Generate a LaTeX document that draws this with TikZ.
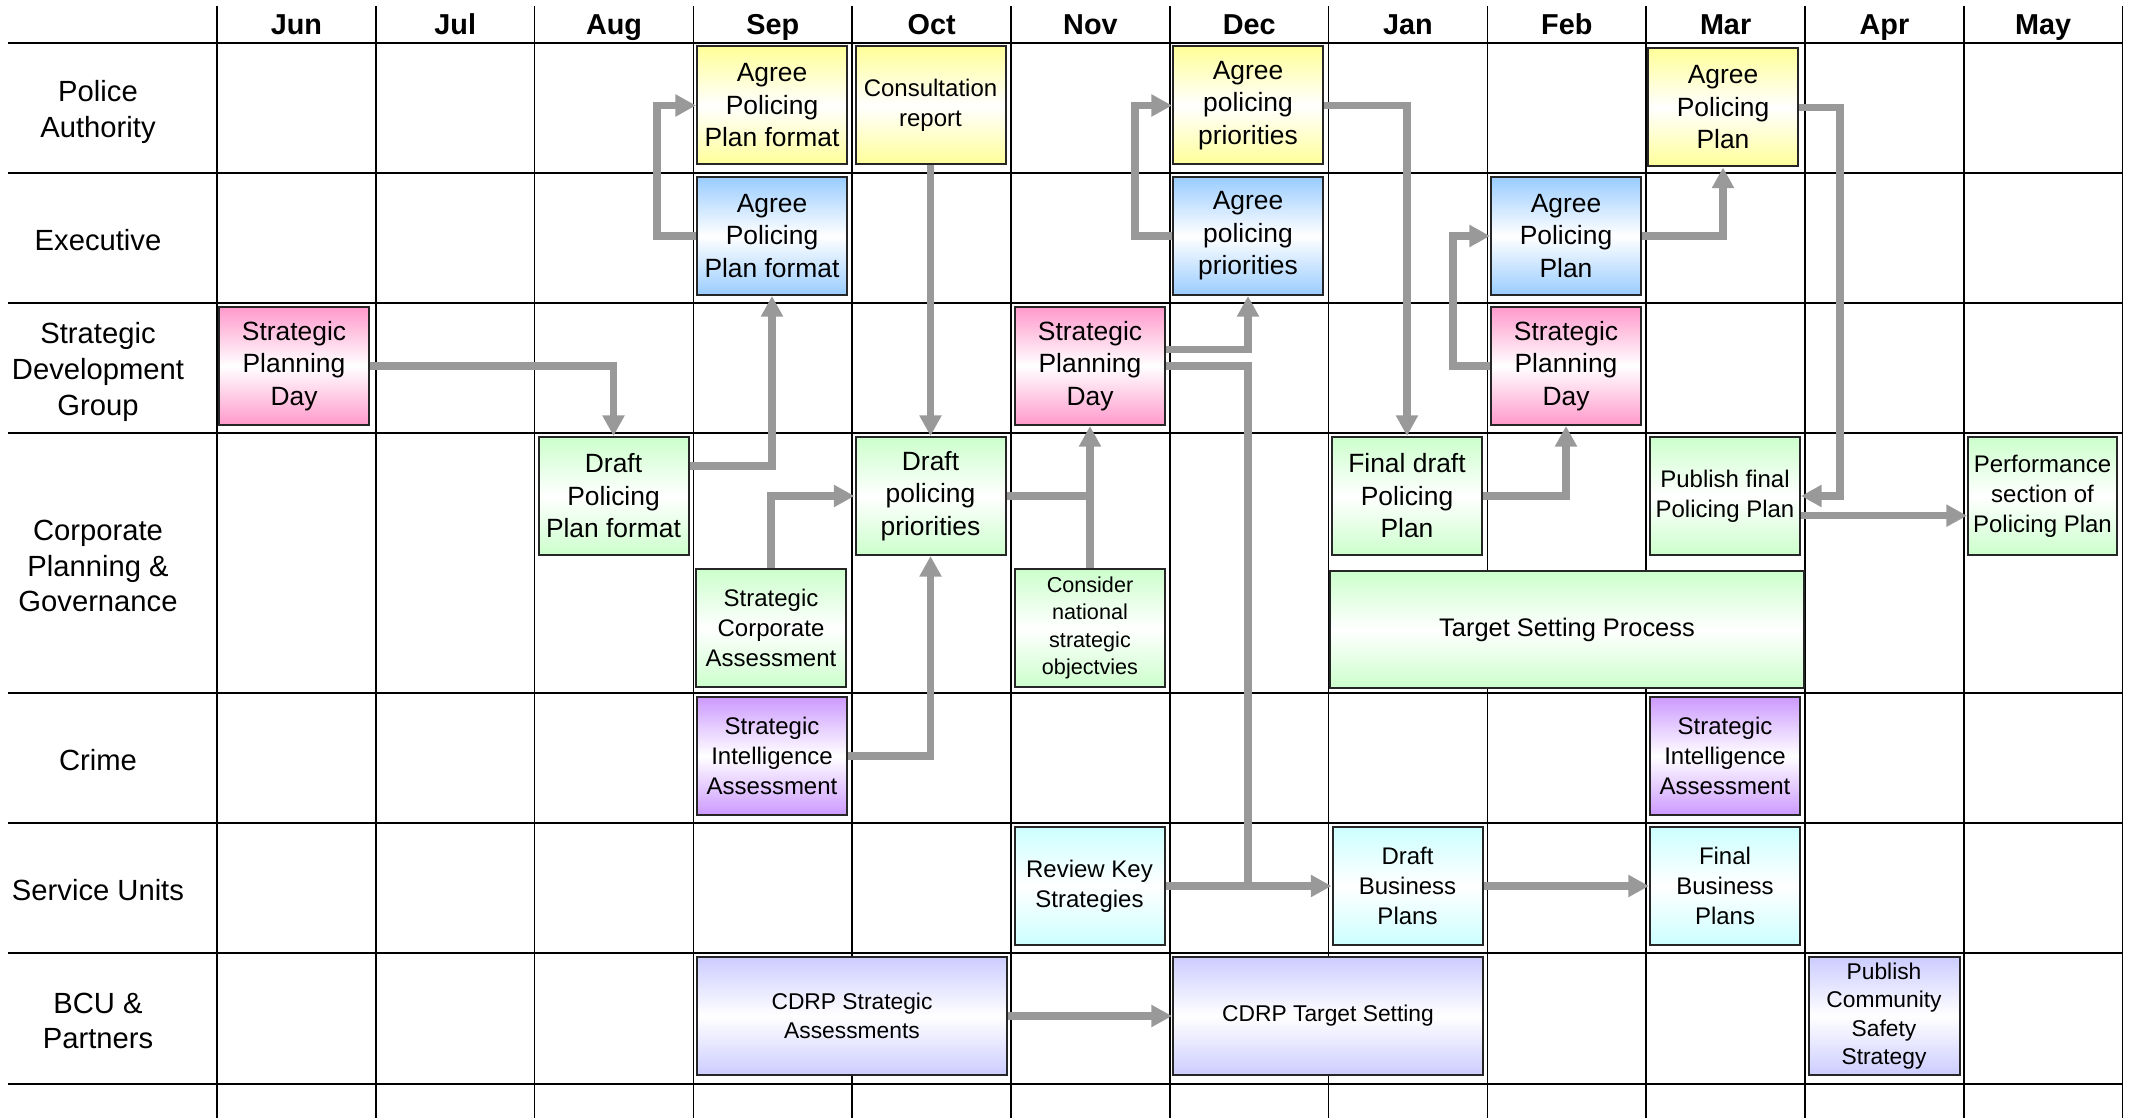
\documentclass[tikz,border=0pt]{standalone}
\usepackage{fontspec}
\setmainfont{Liberation Sans}
\usetikzlibrary{arrows.meta,calc}
\definecolor{cYel}{HTML}{FFFF99}
\definecolor{cBlu}{HTML}{99CCFF}
\definecolor{cPnk}{HTML}{FF99CC}
\definecolor{cGrn}{HTML}{CCFFCC}
\definecolor{cPur}{HTML}{CC99FF}
\definecolor{cCyn}{HTML}{CCFFFF}
\definecolor{cLav}{HTML}{CCCCFF}
\definecolor{cArr}{HTML}{999999}
\tikzset{
  box/.style={draw=black!85, line width=1pt, inner sep=0pt, align=center, text=black, minimum width=75pt, minimum height=59pt},
  yel/.style={top color=cYel, bottom color=cYel, middle color=white},
  blu/.style={top color=cBlu, bottom color=cBlu, middle color=white},
  pnk/.style={top color=cPnk, bottom color=cPnk, middle color=white},
  grn/.style={top color=cGrn, bottom color=cGrn, middle color=white},
  pur/.style={top color=cPur, bottom color=cPur, middle color=white},
  cyn/.style={top color=cCyn, bottom color=cCyn, middle color=white},
  lav/.style={top color=cLav, bottom color=cLav, middle color=white},
  fA/.style={font=\fontsize{13.2}{16.25}\selectfont},
  fB/.style={font=\fontsize{12}{15}\selectfont},
  fD/.style={font=\fontsize{10.8}{13.6}\selectfont},
  fE/.style={font=\fontsize{11.4}{14.25}\selectfont},
  fT/.style={font=\fontsize{12.7}{15.5}\selectfont},
  rowlab/.style={align=center, font=\fontsize{14.6}{17.9}\selectfont, inner sep=0pt},
  hdr/.style={anchor=base, font=\bfseries\fontsize{14.4}{17}\selectfont, inner sep=0pt},
  gridh/.style={draw=black, line width=1pt},
  gridv/.style={draw=black, line width=0.75pt},
  conn/.style={draw=cArr, line width=3.65pt, miter limit=10, -{Triangle[width=10.5pt,length=10.3pt]}},
  cline/.style={draw=cArr, line width=3.65pt}
}
\begin{document}
\begin{tikzpicture}[x=0.5pt,y=-0.5pt]
\useasboundingbox (0,0) rectangle (2132,1118);
% grid
\foreach \k in {0,...,12} \draw[gridv] ({217+158.8*\k},6) -- ({217+158.8*\k},1118);
\foreach \yy in {43,173,303,433,693,823,953,1083.5} \draw[gridh] (8,\yy) -- (2122.6,\yy);
% month headers
\foreach \m [count=\i from 0] in {Jun,Jul,Aug,Sep,Oct,Nov,Dec,Jan,Feb,Mar,Apr,May}
  \node[hdr] (m\i) at ({217+158.8*(\i+0.5)},34.5) {\m};
% row labels
\node[rowlab] (r1) at (98,112) {Police\\Authority};
\node[rowlab] (r2) at (98,240) {Executive};
\node[rowlab] (r3) at (98,372) {Strategic\\Development\\Group};
\node[rowlab] (r4) at (98,566) {Corporate\\Planning \&\\Governance};
\node[rowlab] (r5) at (98,760) {Crime};
\node[rowlab] (r6) at (98,890) {Service Units};
\node[rowlab] (r7) at (98,1021) {BCU \&\\Partners};
% Police Authority
\node[box,yel,fA] (pa1) at (772,105.5) {Agree\\Policing\\Plan format};
\node[box,yel,fB] (pa2) at (930.5,105.5) {Consultation\\report};
\node[box,yel,fA] (pa3) at (1248,105.5) {Agree\\policing\\priorities};
\node[box,yel,fA] (pa4) at (1723,107.5) {Agree\\Policing\\Plan};
% Executive
\node[box,blu,fA] (ex1) at (772,236) {Agree\\Policing\\Plan format};
\node[box,blu,fA] (ex2) at (1248,236) {Agree\\policing\\priorities};
\node[box,blu,fA] (ex3) at (1566,236) {Agree\\Policing\\Plan};
% Strategic Development Group
\node[box,pnk,fA] (sd1) at (294,366) {Strategic\\Planning\\Day};
\node[box,pnk,fA] (sd2) at (1090,366) {Strategic\\Planning\\Day};
\node[box,pnk,fA] (sd3) at (1566,366) {Strategic\\Planning\\Day};
% Corporate Planning & Governance
\node[box,grn,fA] (cp1) at (613.5,496) {Draft\\Policing\\Plan format};
\node[box,grn,fB] (cp2) at (771,628) {Strategic\\Corporate\\Assessment};
\node[box,grn,fA] (cp3) at (930.5,496) {Draft\\policing\\priorities};
\node[box,grn,fD] (cp4) at (1090,628) {Consider\\national\\strategic\\objectvies};
\node[box,grn,fA] (cp5) at (1407,496) {Final draft\\Policing\\Plan};
\node[box,grn,fB] (cp6) at (1725,496) {Publish final\\Policing Plan};
\node[box,grn,fB,minimum width=74.5pt] (cp7) at (2042.5,496) {Performance\\section of\\Policing Plan};
\node[box,grn,fT,minimum width=237pt,minimum height=58.5pt] (tsp) at (1567,629.5) {Target Setting Process};
% Crime
\node[box,pur,fB] (cr1) at (772,756) {Strategic\\Intelligence\\Assessment};
\node[box,pur,fB] (cr2) at (1725,756) {Strategic\\Intelligence\\Assessment};
% Service Units
\node[box,cyn,fB] (su1) at (1089.5,886) {Review Key\\Strategies};
\node[box,cyn,fB] (su2) at (1407.5,886) {Draft\\Business\\Plans};
\node[box,cyn,fB] (su3) at (1725,886) {Final\\Business\\Plans};
% BCU & Partners
\node[box,lav,fE,minimum width=155pt] (bc1) at (852,1016) {CDRP Strategic\\Assessments};
\node[box,lav,fE,minimum width=155pt] (bc2) at (1328,1016) {CDRP Target Setting};
\node[box,lav,fE,minimum width=75.5pt] (bc3) at (1884,1016) {Publish\\Community\\Safety\\Strategy};
% connectors
\draw[conn] (sd1.east) -| (cp1.north);
\draw[conn] ([yshift=15pt]cp1.east) -| (ex1.south);
\draw[conn] (ex1.west) -- ++(-39,0) |- (pa1.west);
\draw[conn] (pa2.south) -- (cp3.north);
\draw[conn] (cp2.north) |- (cp3.west);
\draw[conn] (cr1.east) -| (cp3.south);
\draw[cline] (cp4.north) -- (cp4.north |- cp3.east);
\draw[conn] (cp3.east) -| (sd2.south);
\draw[conn] ([yshift=8.25pt]sd2.east) -| (ex2.south);
\draw[cline] (sd2.east) -| (ex2.south |- su2.west);
\draw[conn] (su1.east) -- (su2.west);
\draw[conn] (ex2.west) -- ++(-37,0) |- (pa3.west);
\draw[conn] (pa3.east) -| (cp5.north);
\draw[conn] (cp5.east) -| (sd3.south);
\draw[conn] (sd3.west) -- ++(-37,0) |- (ex3.west);
\draw[conn] (ex3.east) -| (pa4.south);
\draw[conn] (pa4.east) -- ++(41,0) |- (cp6.east);
\draw[conn] ([yshift=-9.85pt]cp6.east) -- ([yshift=-9.85pt]cp7.west);
\draw[conn] (su2.east) -- (su3.west);
\draw[conn] (bc1.east) -- (bc2.west);
\end{tikzpicture}
\end{document}
